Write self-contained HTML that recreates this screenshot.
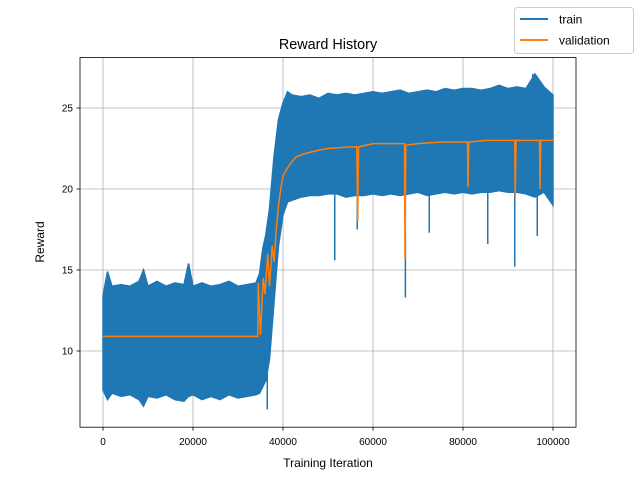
<!DOCTYPE html>
<html><head><meta charset="utf-8"><style>
body{margin:0;background:#fff}
svg text{font-family:"Liberation Sans",sans-serif;fill:#000}
</style></head><body>
<svg id="chart" width="640" height="480" viewBox="0 0 640 480">
<rect width="640" height="480" fill="#fff"/>
<g id="grid"></g>
<g id="marks"></g>
<rect x="80" y="57.6" width="496" height="369.6" fill="none" stroke="#000" stroke-width="0.8"/>
<g id="axes"></g>
<text x="328" y="49" text-anchor="middle" font-size="14.4">Reward History</text>
<text x="328" y="467" text-anchor="middle" font-size="12">Training Iteration</text>
<text transform="translate(44,242) rotate(-90)" text-anchor="middle" font-size="12">Reward</text>
<g>
<rect x="514.5" y="7.5" width="119" height="46" rx="3" fill="#fff" stroke="#ccc"/>
<line x1="520" y1="19" x2="548" y2="19" stroke="#1f77b4" stroke-width="2"/>
<text x="559" y="23.5" font-size="12">train</text>
<line x1="520" y1="40" x2="548" y2="40" stroke="#ff7f0e" stroke-width="2"/>
<text x="559" y="44.5" font-size="12">validation</text>
</g>
</svg>
<script>
const xTicks=[0,20000,40000,60000,80000,100000];
const yTicks=[10,15,20,25];
const trainIter=[0,1000,2000,4000,6000,8000,9000,10000,12000,14000,16000,18000,19000,20000,22000,24000,26000,28000,30000,32000,34000,34800,35500,36200,37000,38000,39000,40000,41000,42000,44000,46000,48000,50000,52000,54000,56000,58000,60000,62000,64000,66000,68000,70000,72000,74000,76000,78000,80000,82000,84000,86000,88000,90000,92000,94000,96000,98000,100000];
const trainHigh=[13.4,14.9,14.0,14.1,14.0,14.3,15.0,14.0,14.3,14.0,14.2,14.1,15.4,14.0,14.2,14.0,14.1,14.3,14.0,14.1,14.2,14.8,16.3,17.2,18.8,22.0,24.3,25.3,26.0,25.8,25.7,25.8,25.6,25.9,25.8,25.9,25.8,25.9,26.0,25.9,26.0,26.1,25.9,26.0,26.1,26.0,26.2,26.1,26.2,26.2,26.1,26.2,26.4,26.2,26.3,26.2,27.1,26.3,25.8];
const trainLow=[7.6,7.0,7.4,7.2,7.3,7.0,6.6,7.2,7.1,7.3,7.0,6.9,7.2,7.3,7.0,7.2,7.0,7.3,7.1,7.2,7.3,7.4,7.8,8.2,9.5,13.0,16.5,18.4,19.2,19.3,19.5,19.6,19.6,19.7,19.7,19.5,19.6,19.6,19.7,19.6,19.7,19.6,19.7,19.8,19.6,19.7,19.8,19.7,19.8,19.7,19.8,19.8,19.9,19.8,19.8,19.7,19.5,19.8,19.0];
const spikeIter=[36500,51500,56500,67200,72500,85500,91500,96500,95500];
const spikeVal=[6.4,15.6,17.5,13.3,17.3,16.6,15.2,17.1,27.1];
const valIter=[0,34400,34500,35000,35600,36000,36600,37000,37600,38000,38500,39000,39500,40000,41000,42000,43000,45000,48000,50000,55000,56400,56600,56800,60000,65000,67000,67100,67300,70000,75000,81000,81100,81300,85000,91500,91600,91800,95000,97000,97100,97300,100000];
const valVal=[10.9,10.9,14.2,11,14.5,13.5,16,14,16.5,15.5,17.5,19,20,20.8,21.3,21.7,22,22.2,22.4,22.5,22.6,22.6,18,22.6,22.8,22.8,22.8,15.7,22.7,22.8,22.9,22.9,20.1,22.9,23,23,19.5,23,23,23,20,23,23];
const X=v=>103+v*0.0045, Y=v=>351-(v-10)*16.2;
const NS="http://www.w3.org/2000/svg";
function mk(t,a,p){const e=document.createElementNS(NS,t);for(const k in a)e.setAttribute(k,a[k]);p.appendChild(e);return e;}
const grid=document.getElementById('grid'),axes=document.getElementById('axes'),marks=document.getElementById('marks');
xTicks.forEach(t=>{
 const g=mk('line',{x1:X(t),x2:X(t),y1:57.6,y2:427.2,stroke:'#b0b0b0','stroke-width':0.8},grid);
 
 
 const k=mk('line',{x1:X(t),x2:X(t),y1:427.2,y2:430.7,stroke:'#000','stroke-width':0.8},axes);
 
 
 const l=mk('text',{x:X(t),y:445,'text-anchor':'middle','font-size':10},axes);l.textContent=t;
 
 
});
yTicks.forEach(t=>{
 const g=mk('line',{x1:80,x2:576,y1:Y(t),y2:Y(t),stroke:'#b0b0b0','stroke-width':0.8},grid);
 
 
 const k=mk('line',{x1:76.5,x2:80,y1:Y(t),y2:Y(t),stroke:'#000','stroke-width':0.8},axes);
 
 
 const l=mk('text',{x:73,y:Y(t)+3.5,'text-anchor':'end','font-size':10},axes);l.textContent=t;
 
 
});
let pts=trainIter.map((v,i)=>X(v)+','+Y(trainHigh[i]));
for(let i=trainIter.length-1;i>=0;i--)pts.push(X(trainIter[i])+','+Y(trainLow[i]));
const band=mk('polygon',{points:pts.join(' '),fill:'#1f77b4',stroke:'#1f77b4','stroke-width':1.5},marks);


spikeIter.forEach((v,i)=>{
 const mid=spikeVal[i]>25?24:(v<40000?10:21);
 const s=mk('line',{x1:X(v),x2:X(v),y1:Y(mid),y2:Y(spikeVal[i]),stroke:'#1f77b4','stroke-width':1.5},marks);
 
 
});
const vl=mk('polyline',{points:valIter.map((v,i)=>X(v)+','+Y(valVal[i])).join(' '),fill:'none',stroke:'#ff7f0e','stroke-width':1.5},marks);


</script>
</body></html>
